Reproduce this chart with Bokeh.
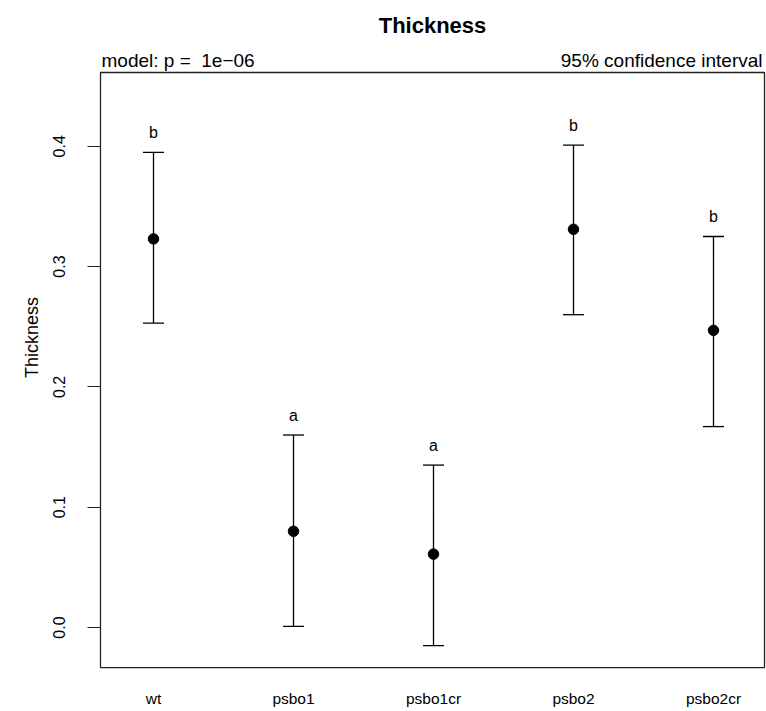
from bokeh.plotting import figure
from bokeh.models import ColumnDataSource, Whisker, TeeHead, FixedTicker, Range1d, BoxAnnotation
from bokeh.core.properties import value
from bokeh.embed import file_html
from bokeh.resources import INLINE

groups = ["wt", "psbo1", "psbo1cr", "psbo2", "psbo2cr"]
means = [0.323, 0.080, 0.061, 0.331, 0.247]
lower = [0.253, 0.001, -0.015, 0.260, 0.167]
upper = [0.395, 0.160, 0.135, 0.401, 0.325]
letters = ["b", "a", "a", "b", "b"]
y_ticks = [0.0, 0.1, 0.2, 0.3, 0.4]
title_text = "Thickness"
left_note = "model: p = \u00a01e\u221206"
right_note = "95% confidence interval"

FONT = "Liberation Sans"
xs = list(range(1, len(groups) + 1))
src = ColumnDataSource(dict(x=xs, m=means, lo=lower, up=upper, let=letters))

# plotting box (R style) and a frame slightly larger so the header fits inside
bx0, bx1 = 0.6214, 5.3643
by0, by1 = -0.0333, 0.4613
fx0, fx1 = 0.6071, 5.3786
fy0, fy1 = -0.0349, 0.5170

p = figure(width=766, height=711, output_backend="svg", toolbar_location=None,
           x_range=Range1d(fx0, fx1), y_range=Range1d(fy0, fy1),
           min_border_left=98, min_border_right=0, min_border_top=5, min_border_bottom=42)
p.background_fill_color = "white"
p.border_fill_color = "white"
p.outline_line_color = None
p.xgrid.visible = False
p.ygrid.visible = False

p.add_layout(BoxAnnotation(left=bx0, right=bx1, bottom=by0, top=by1,
                           fill_alpha=0, line_color="#222222", line_alpha=1.0,
                           line_width=1.3))

# x axis
p.xaxis.ticker = FixedTicker(ticks=xs)
p.xaxis.major_label_overrides = {i: g for i, g in zip(xs, groups)}
p.xaxis.major_tick_out = 0
p.xaxis.major_tick_in = 0
p.xaxis.minor_tick_out = 0
p.xaxis.minor_tick_in = 0
p.xaxis.axis_line_color = None
p.xaxis.major_label_standoff = 20
p.xaxis.major_label_text_font = FONT
p.xaxis.major_label_text_font_size = "15.5px"
p.xaxis.major_label_text_color = "black"

# y axis
p.yaxis.ticker = FixedTicker(ticks=y_ticks)
p.yaxis.major_label_overrides = {t: f"{t:.1f}" for t in y_ticks}
p.yaxis.axis_line_color = None
p.yaxis.major_tick_out = 11
p.yaxis.major_tick_in = 2
p.yaxis.minor_tick_out = 0
p.yaxis.minor_tick_in = 0
p.yaxis.major_tick_line_color = "#222222"
p.yaxis.major_tick_line_width = 1.2
p.yaxis.major_label_orientation = "vertical"
p.yaxis.major_label_standoff = 22
p.yaxis.major_label_text_font = FONT
p.yaxis.major_label_text_font_size = "16px"
p.yaxis.major_label_text_color = "black"
p.yaxis.axis_label = "Thickness"
p.yaxis.axis_label_text_font = FONT
p.yaxis.axis_label_text_font_size = "18px"
p.yaxis.axis_label_text_font_style = "normal"
p.yaxis.axis_label_text_color = "black"
p.yaxis.axis_label_standoff = 9

w = Whisker(source=src, base="x", upper="up", lower="lo", dimension="height",
            line_color="black", line_width=1.3,
            upper_head=TeeHead(size=21, line_color="black", line_width=1.3),
            lower_head=TeeHead(size=21, line_color="black", line_width=1.3))
p.add_layout(w)

p.scatter("x", "m", source=src, size=10.5, color="black")

p.text("x", "up", text="let", source=src, text_align="center", text_baseline="alphabetic",
       y_offset=-20, text_font=value(FONT), text_font_size="16px", text_color="black")

# header texts
p.text(x=[(bx0 + bx1) / 2], y=[by1], text=[title_text], text_align="center",
       text_baseline="alphabetic", y_offset=-47, text_font=value(FONT),
       text_font_size="22px", text_font_style="bold", text_color="black")
p.text(x=[bx0], y=[by1], text=[left_note], text_align="left", x_offset=1,
       text_baseline="alphabetic", y_offset=-12, text_font=value(FONT),
       text_font_size="19px", text_color="black")
p.text(x=[bx1], y=[by1], text=[right_note], text_align="right", x_offset=-2,
       text_baseline="alphabetic", y_offset=-12, text_font=value(FONT),
       text_font_size="19px", text_color="black")

open("out.html", "w").write(file_html(p, INLINE))
